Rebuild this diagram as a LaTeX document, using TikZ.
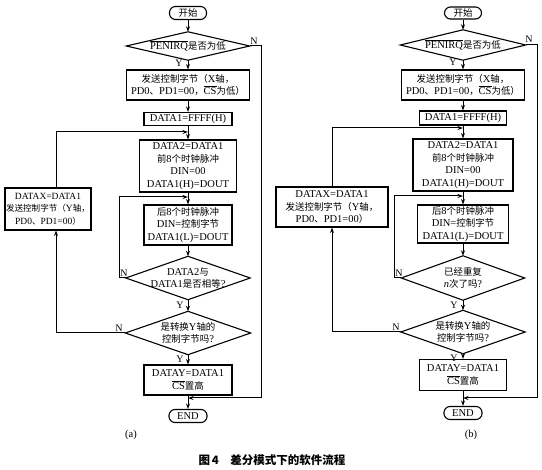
\documentclass[tikz,border=0pt]{standalone}
\usepackage{fontspec}
\setmainfont{Liberation Serif}
\newfontfamily\cjk{Noto Sans CJK SC}[Scale=0.9]
\newfontfamily\cjkcap{Noto Sans CJK SC}
\newcommand\C[1]{{\cjk #1}}
\newcommand\ol[1]{\(\overline{\mbox{#1}}\)}
\newcommand\dd[1]{\draw[dline] (#1.west) -- (#1.north) -- (#1.east) -- (#1.south) -- cycle;}
\usetikzlibrary{arrows.meta}
\begin{document}
\begin{tikzpicture}[x=1pt,y=-1pt,
  every node/.style={font=\fontsize{10.5}{12.7}\selectfont, inner sep=0pt, align=center},
  box/.style={draw, line width=1.1pt, rectangle},
  term/.style={draw, line width=1.1pt, rounded corners=6pt},
  dia/.style={rectangle},
  dline/.style={line width=1.1pt, line join=miter},
  lab/.style={font=\fontsize{10}{12}\selectfont},
  arr/.style={line width=1pt, -{Stealth[length=5.5pt,width=4pt]}}]
\useasboundingbox[fill=white] (0,0) rectangle (542,470);

% ---------------- (a) ----------------
\node[term, minimum width=37pt, minimum height=13pt] (as) at (188,13) {\C{开始}};
\node[dia, minimum width=123pt, minimum height=28pt] (ad1) at (188,46) {\ol{PENIRQ}\C{是否为低}};
\node[box, minimum width=123pt, minimum height=30pt] (ab1) at (188,85) {\C{发送控制字节（}X\C{轴，}\\PD0\C{、}PD1=00\C{，}\ol{CS}\C{为低）}};
\node[box, minimum width=88pt, minimum height=13pt] (ab2) at (188,119) {DATA1=FFFF(H)};
\node[box, minimum width=97pt, minimum height=52pt] (ab3) at (188,166) {DATA2=DATA1\\\C{前}8\C{个时钟脉冲}\\DIN=00\\DATA1(H)=DOUT};
\node[box, minimum width=88pt, minimum height=40pt] (ab4) at (188,225) {\C{后}8\C{个时钟脉冲}\\DIN=\C{控制字节}\\DATA1(L)=DOUT};
\node[dia, minimum width=124pt, minimum height=43pt] (ad2) at (188,278) {DATA2\C{与}\\DATA1\C{是否相等}?};
\node[dia, minimum width=125pt, minimum height=43pt] (ad3) at (188,333) {\C{是转换}Y\C{轴的}\\\C{控制字节吗}?};
\node[box, minimum width=88pt, minimum height=30pt] (ab5) at (188,380) {DATAY=DATA1\\\ol{CS}\C{置高}};
\node[term, minimum width=38pt, minimum height=13pt] (ae) at (188,416) {END};
\node[box, minimum width=86pt, minimum height=42pt, font=\fontsize{9.5}{12.5}\selectfont] (abx) at (48,209) {DATAX=DATA1\\\C{发送控制字节（}Y\C{轴，}\\PD0\C{、}PD1=00\C{）}};
\dd{ad1}\dd{ad2}\dd{ad3}

\coordinate (arx) at (261,0);
\coordinate (am) at (188,398);
\coordinate (aj1) at (188,132);
\coordinate (aj2) at (188,197);
\coordinate (aix) at (119,0);
\coordinate (alx) at (56,0);

\draw[arr] (as) -- (ad1);
\draw[arr] (ad1) -- (ab1);
\draw[arr] (ab1) -- (ab2);
\draw[arr] (ab2) -- (ab3);
\draw[arr] (ab3) -- (ab4);
\draw[arr] (ab4) -- (ad2);
\draw[arr] (ad2) -- (ad3);
\draw[arr] (ad3) -- (ab5);
\draw[arr] (ab5) -- (ae);
\draw[arr] (ad1.east) -| (arx |- am) -- (am);
\draw[arr] (ad2.west) -| (aix |- aj2) -- (aj2);
\draw[arr] (ad3.west) -| (abx.south -| alx);
\draw[arr] (abx.north -| alx) |- (aj1);

\node[lab] (an1) at (254,41) {N};
\node[lab] (ay1) at (179,63) {Y};
\node[lab] (an2) at (124,273) {N};
\node[lab] (ay2) at (180,305) {Y};
\node[lab] (an3) at (119,328) {N};
\node[lab] (ay3) at (180,359) {Y};
\node[lab, font=\fontsize{10.5}{12}\selectfont] (acap) at (131,435) {(a)};

% ---------------- (b) ----------------
\node[term, minimum width=37pt, minimum height=12pt] (bs) at (463,13) {\C{开始}};
\node[dia, minimum width=125pt, minimum height=30pt] (bd1) at (463,45) {\ol{PENIRQ}\C{是否为低}};
\node[box, minimum width=123pt, minimum height=30pt] (bb1) at (463,85) {\C{发送控制字节（}X\C{轴，}\\PD0\C{、}PD1=00\C{，}\ol{CS}\C{为低）}};
\node[box, minimum width=87pt, minimum height=14pt] (bb2) at (463,118) {DATA1=FFFF(H)};
\node[box, minimum width=100pt, minimum height=52pt] (bb3) at (463,165) {DATA2=DATA1\\\C{前}8\C{个时钟脉冲}\\DIN=00\\DATA1(H)=DOUT};
\node[box, minimum width=91pt, minimum height=38pt] (bb4) at (463,224) {\C{后}8\C{个时钟脉冲}\\DIN=\C{控制字节}\\DATA1(L)=DOUT};
\node[dia, minimum width=123pt, minimum height=44pt] (bd2) at (463,278) {\C{已经重复}\\\textit{n}\C{次了吗}?};
\node[dia, minimum width=124pt, minimum height=43pt] (bd3) at (463,332) {\C{是转换}Y\C{轴的}\\\C{控制字节吗}?};
\node[box, minimum width=87pt, minimum height=31pt] (bb5) at (463,375) {DATAY=DATA1\\\ol{CS}\C{置高}};
\node[term, minimum width=38pt, minimum height=13pt] (be) at (463,413) {END};
\node[box, minimum width=112pt, minimum height=40pt] (bbx) at (332,207) {DATAX=DATA1\\\C{发送控制字节（}Y\C{轴，}\\PD0\C{、}PD1=00\C{）}};
\dd{bd1}\dd{bd2}\dd{bd3}

\coordinate (brx) at (537,0);
\coordinate (bm) at (463,398);
\coordinate (bj1) at (463,128);
\coordinate (bj2) at (463,196);
\coordinate (bix) at (394,0);
\coordinate (blx) at (332,0);

\draw[arr] (bs) -- (bd1);
\draw[arr] (bd1) -- (bb1);
\draw[arr] (bb1) -- (bb2);
\draw[arr] (bb2) -- (bb3);
\draw[arr] (bb3) -- (bb4);
\draw[arr] (bb4) -- (bd2);
\draw[arr] (bd2) -- (bd3);
\draw[arr] (bd3) -- (bb5);
\draw[arr] (bb5) -- (be);
\draw[arr] (bd1.east) -| (brx |- bm) -- (bm);
\draw[arr] (bd2.west) -| (bix |- bj2) -- (bj2);
\draw[arr] (bd3.west) -| (bbx.south -| blx);
\draw[arr] (bbx.north -| blx) |- (bj1);

\node[lab] (bn1) at (529,39) {N};
\node[lab] (by1) at (453,62) {Y};
\node[lab] (bn2) at (399,273) {N};
\node[lab] (by2) at (454,305) {Y};
\node[lab] (bn3) at (396,327) {N};
\node[lab] (by3) at (454,358) {Y};
\node[lab, font=\fontsize{10.5}{12}\selectfont] (bcap) at (471,435) {(b)};

% caption
\node[font=\fontsize{11.5}{14}\selectfont\cjkcap\bfseries] (cap) at (272,460) {图\,4\quad 差分模式下的软件流程};
\end{tikzpicture}
\end{document}
